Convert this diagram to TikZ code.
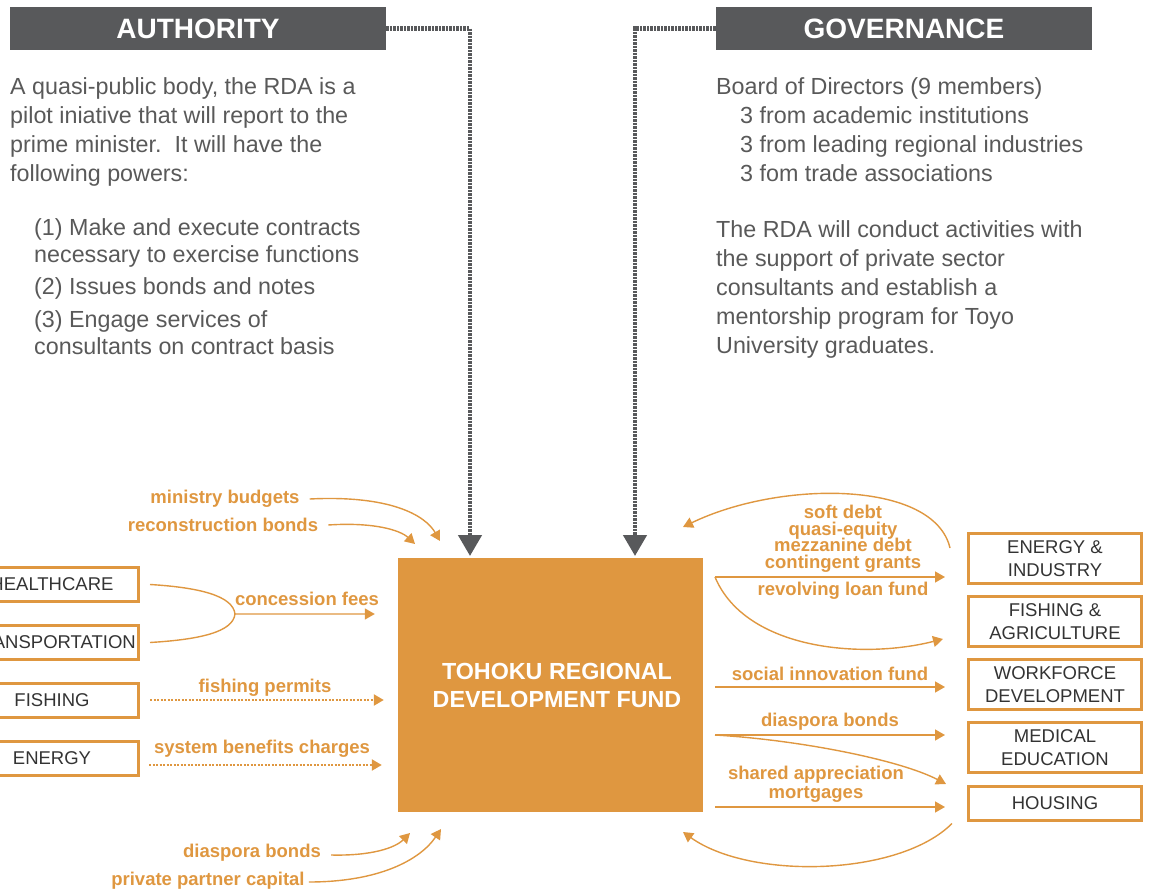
\documentclass[tikz,border=0pt]{standalone}
\usepackage{fontspec}
\setmainfont{Liberation Sans}
\usetikzlibrary{arrows.meta,calc}
\definecolor{orng}{RGB}{223,151,64}
\definecolor{hdrgray}{RGB}{88,89,91}
\definecolor{bodygray}{RGB}{89,89,89}
\definecolor{boxtext}{RGB}{51,51,51}

\begin{document}
\begin{tikzpicture}[x=1pt,y=-1pt]
        \tikzstyle{every node}=[inner sep=0pt]
        \tikzstyle{hdr}=[fill=hdrgray,text=white,minimum width=376pt,minimum height=43pt,font=\fontsize{28}{32}\selectfont\bfseries]
        \tikzstyle{body}=[text=bodygray,align=left,anchor=north west,font=\fontsize{23.3}{29}\selectfont]
        \tikzstyle{sbox}=[draw=orng,line width=3pt,minimum width=173pt,minimum height=34pt,text=boxtext,align=center,font=\fontsize{18.5}{23}\selectfont]
        \tikzstyle{tbox}=[sbox,minimum height=50pt]
        \tikzstyle{fundbox}=[fill=orng,minimum width=305pt,minimum height=254pt]
        \tikzstyle{fundtxt}=[text=white,align=center,font=\fontsize{23.3}{28}\selectfont\bfseries]
        \tikzstyle{lbl}=[text=orng,align=center,font={\fontsize{18.5}{16.5}\selectfont\bfseries\lineskiplimit-50pt}]
        \tikzstyle{flow}=[orng,line width=1.4pt,-{Triangle[length=10pt,width=11pt]}]
        \tikzstyle{dflow}=[flow,line width=2.2pt,dash pattern=on 2pt off 1.5pt]
        \tikzstyle{ctrl}=[hdrgray,line width=4.5pt,dash pattern=on 2.5pt off 1pt,-{Triangle[length=21pt,width=23pt]}]
        \useasboundingbox (0,0) rectangle (1151,890);

        \node[hdr] (auth) at (198,28.5) {AUTHORITY};
        \node[hdr] (gov) at (904,28.5) {GOVERNANCE};
        \node[body] (authtxt) at (10,77) {A quasi-public body, the RDA is a\\pilot iniative that will report to the\\prime minister.\ \ It will have the\\following powers:};
        \node[body,font=\fontsize{23.3}{27}\selectfont] (powers) at (34,218) {(1) Make and execute contracts\\necessary to exercise functions\\[5pt](2) Issues bonds and notes\\[6pt](3) Engage services of\\consultants on contract basis};
        \node[body] (board) at (716,77) {Board of Directors (9 members)};
        \node[body] (members) at (740,106) {3 from academic institutions\\3 from leading regional industries\\3 fom trade associations};
        \node[body] (rdatxt) at (716,220) {The RDA will conduct activities with\\the support of private sector\\consultants and establish a\\mentorship program for Toyo\\University graduates.};

        \node[fundbox] (fund) at (550.5,685) {};
        \node[fundtxt] (fundname) at (557,685) {TOHOKU REGIONAL\\DEVELOPMENT FUND};

        \node[sbox] (hc) at (52,584.5) {HEALTHCARE};
        \node[sbox] (tr) at (52,642.5) {TRANSPORTATION};
        \node[sbox] (fi) at (52,700) {FISHING};
        \node[sbox] (en) at (52,758) {ENERGY};

        \node[tbox] (ei) at (1055,558.5) {ENERGY \&\\INDUSTRY};
        \node[tbox] (fa) at (1055,621.5) {FISHING \&\\AGRICULTURE};
        \node[tbox] (wd) at (1055,684.5) {WORKFORCE\\DEVELOPMENT};
        \node[tbox] (me) at (1055,747.5) {MEDICAL\\EDUCATION};
        \node[sbox] (ho) at (1055,803.5) {HOUSING};

        \node[lbl] (budgets) at (225,499) {ministry budgets};
        \node[lbl] (recon) at (223,525) {reconstruction bonds};
        \node[lbl] (concess) at (307,599) {concession fees};
        \node[lbl] (permits) at (265,688) {fishing permits};
        \node[lbl] (sbc) at (262,749) {system benefits charges};
        \node[lbl] (diasin) at (252,853) {diaspora bonds};
        \node[lbl] (partner) at (208,881) {private partner capital};
        \node[lbl] (debt) at (843,539) {soft debt\\quasi-equity\\mezzanine debt\\contingent grants};
        \node[lbl] (revolv) at (843,591) {revolving loan fund};
        \node[lbl] (social) at (830,674) {social innovation fund};
        \node[lbl] (diasout) at (830,722) {diaspora bonds};
        \node[lbl,font={\fontsize{18.5}{18.5}\selectfont\bfseries}] (mortg) at (816,784.5) {shared appreciation\\mortgages};

        \coordinate (authin) at (470,556);
        \coordinate (govin) at (635,556);
        \draw[ctrl] (auth.east) -| (authin);
        \draw[ctrl] (gov.west) -| (govin);

        \coordinate (budtip) at (440,541);
        \coordinate (recontip) at (415,544);
        \coordinate (cfjoin) at (235,614);
        \coordinate (diastip) at (410,833);
        \coordinate (partnertip) at (441,829);
        \draw[flow] ($(budgets.east)+(10,0)$) .. controls +(80,-4) and +(-15,-26) .. (budtip);
        \draw[flow] ($(recon.east)+(10,0)$) .. controls +(45,-3) and +(-15,-14) .. (recontip);
        \draw[flow] ($(hc.east)+(10,0)$) .. controls +(50,3) and +(-2,-18) .. (cfjoin) -- ($(cfjoin-|fund.west)+(-23,0)$);
        \draw[orng,line width=1.4pt] ($(tr.east)+(10,0)$) .. controls +(50,-3) and +(-2,18) .. (cfjoin);
        \draw[dflow] ($(fi.east)+(10,0)$) -- ($(fund.west|-fi.east)+(-14,0)$);
        \draw[dflow] ($(en.east)+(9,7)$) -- ($(fund.west|-en.east)+(-16,7)$);
        \draw[flow] ($(diasin.east)+(10,2)$) .. controls +(40,1) and +(-15,15) .. (diastip);
        \draw[flow] ($(partner.east)+(4,1)$) .. controls +(70,0) and +(-21,31) .. (partnertip);

        \coordinate (out1) at (715,577);
        \coordinate (out2) at (715,687);
        \coordinate (out3) at (715,735);
        \coordinate (out4) at (715,807);
        \coordinate (revtip) at (943,639);
        \coordinate (diastip2) at (946,784);
        \coordinate (backtop) at (683,527);
        \coordinate (backbot) at (683,832);
        \draw[flow] (out1) -- (out1-|ei.west) [shorten >=22pt];
        \draw[flow] (out1) .. controls +(30,72) and +(-83,21) .. (revtip);
        \draw[flow] (out2) -- (out2-|wd.west) [shorten >=22pt];
        \draw[flow] (out3) -- (out3-|me.west) [shorten >=22pt];
        \draw[flow] (out3) .. controls +(85,5) and +(-46,-24) .. (diastip2);
        \draw[flow] (out4) -- (out4-|ho.west) [shorten >=22pt];
        \draw[flow] ($(ei.west)+(-17,-10.5)$) .. controls +(-16,-68) and +(97,-47) .. (backtop);
        \draw[flow] ($(ho.south west)+(-15,1.5)$) .. controls +(-53,53) and +(67,48) .. (backbot);
      \end{tikzpicture}
\end{document}
